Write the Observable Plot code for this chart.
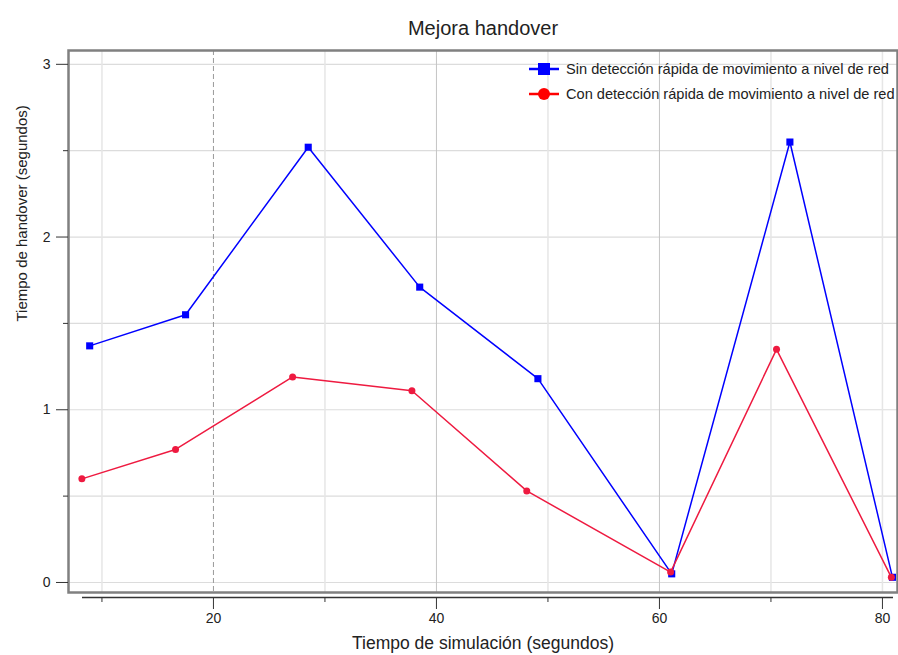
<!DOCTYPE html>
<html>
<head>
<meta charset="utf-8">
<script src="https://cdn.jsdelivr.net/npm/d3@7"></script>
<script src="https://cdn.jsdelivr.net/npm/@observablehq/plot@0.6"></script>
<style>
  html, body { margin: 0; padding: 0; background: #fff; }
  #wrap { position: relative; width: 898px; height: 655px; font-family: "Liberation Sans", Arial, sans-serif; }
  #legend { position: absolute; left: 528px; top: 56px; font-size: 14.6px; color: #222; }
  .row { display: flex; align-items: center; height: 25px; white-space: nowrap; }
  .row svg { margin-right: 5px; }
</style>
</head>
<body>
<div id="wrap"></div>
<script>
const titulo = "Mejora handover";
const etiquetaX = "Tiempo de simulación (segundos)";
const etiquetaY = "Tiempo de handover (segundos)";
const serieSin = "Sin detección rápida de movimiento a nivel de red";
const serieCon = "Con detección rápida de movimiento a nivel de red";

const tiempoSin = [8.9, 17.5, 28.5, 38.5, 49.1, 61.1, 71.7, 80.9];
const valoresSin = [1.37, 1.55, 2.52, 1.71, 1.18, 0.05, 2.55, 0.03];
const tiempoCon = [8.2, 16.6, 27.1, 37.8, 48.1, 61.0, 70.5, 80.8];
const valoresCon = [0.60, 0.77, 1.19, 1.11, 0.53, 0.06, 1.35, 0.03];

const xTicks = [20, 40, 60, 80];
const xMinor = [10, 30, 50, 70];
const yTicks = [0, 1, 2, 3];
const yMinor = [0.5, 1.5, 2.5];

const colorSin = "#0000ff";
const colorCon = "#ee1a40";

const sinData = tiempoSin.map((t, i) => ({t, v: valoresSin[i]}));
const conData = tiempoCon.map((t, i) => ({t, v: valoresCon[i]}));
const yGrid = [...yTicks, ...yMinor];

const xDomain = [7.0, 81.35];
const yDomain = [-0.058, 3.08];

const chart = Plot.plot({
  width: 898,
  height: 655,
  marginTop: 50,
  marginLeft: 68,
  marginRight: 1,
  marginBottom: 63,
  style: {fontFamily: "'Liberation Sans', Arial, sans-serif", fontSize: "13px", color: "#222", background: "#fff"},
  x: {domain: xDomain, axis: null},
  y: {domain: yDomain, axis: null},
  marks: [
    Plot.ruleY(yGrid, {stroke: "#dcdcdc", strokeWidth: 1.2}),
    Plot.ruleX([10, 30, 50, 70, 80], {stroke: "#e6e6e6", strokeWidth: 1.5}),
    Plot.ruleX([40, 60], {stroke: "#c4c4c4", strokeWidth: 1}),
    Plot.ruleX([20], {stroke: "#999", strokeWidth: 1, strokeDasharray: "5,3"}),
    Plot.frame({stroke: "#808080", strokeWidth: 2.5}),
    Plot.axisY({ticks: yTicks, tickSize: 12, tickPadding: 6, tickFormat: d3.format("d"), fontSize: 14, label: null, stroke: "#333"}),
    Plot.axisY({ticks: yMinor, tickSize: 5, tickFormat: () => "", label: null, stroke: "#333"}),
    Plot.ruleY([yDomain[0]], {dy: 5, insetLeft: 14, insetRight: 4, stroke: "#333", strokeWidth: 1.5}),
    Plot.axisX({ticks: xTicks, tickSize: 12, dy: 5, tickPadding: 4, fontSize: 14, label: null, stroke: "#333"}),
    Plot.axisX({ticks: xMinor, tickSize: 5, dy: 5, tickFormat: () => "", label: null, stroke: "#333"}),
    Plot.line(sinData, {x: "t", y: "v", stroke: colorSin, strokeWidth: 1.5}),
    Plot.dot(sinData, {x: "t", y: "v", symbol: "square", r: 4, fill: colorSin}),
    Plot.line(conData, {x: "t", y: "v", stroke: colorCon, strokeWidth: 1.5}),
    Plot.dot(conData, {x: "t", y: "v", symbol: "circle", r: 3.5, fill: colorCon}),
    Plot.text([titulo], {frameAnchor: "top", dy: -22, lineAnchor: "middle", fontSize: 20, fill: "#222"}),
    Plot.text([etiquetaX], {frameAnchor: "bottom", dy: 51, lineAnchor: "middle", fontSize: 17.5, fill: "#222"}),
    Plot.text([etiquetaY], {frameAnchor: "left", dx: -46, rotate: -90, lineAnchor: "middle", fontSize: 15, fill: "#222"})
  ]
});

const wrap = document.getElementById("wrap");
wrap.appendChild(chart);

const legend = document.createElement("div");
legend.id = "legend";
function row(label, color, shape) {
  const r = document.createElement("div");
  r.className = "row";
  const marker = shape === "square"
    ? `<rect x="10" y="3" width="12" height="12" fill="${color}"/>`
    : `<circle cx="16" cy="9" r="6" fill="${color}"/>`;
  r.innerHTML = `<svg width="33" height="18"><line x1="1" x2="31" y1="9" y2="9" stroke="${color}" stroke-width="2.5"/>${marker}</svg><span>${label}</span>`;
  return r;
}
legend.appendChild(row(serieSin, colorSin, "square"));
legend.appendChild(row(serieCon, "#ff0000", "circle"));
wrap.appendChild(legend);
</script>
</body>
</html>
